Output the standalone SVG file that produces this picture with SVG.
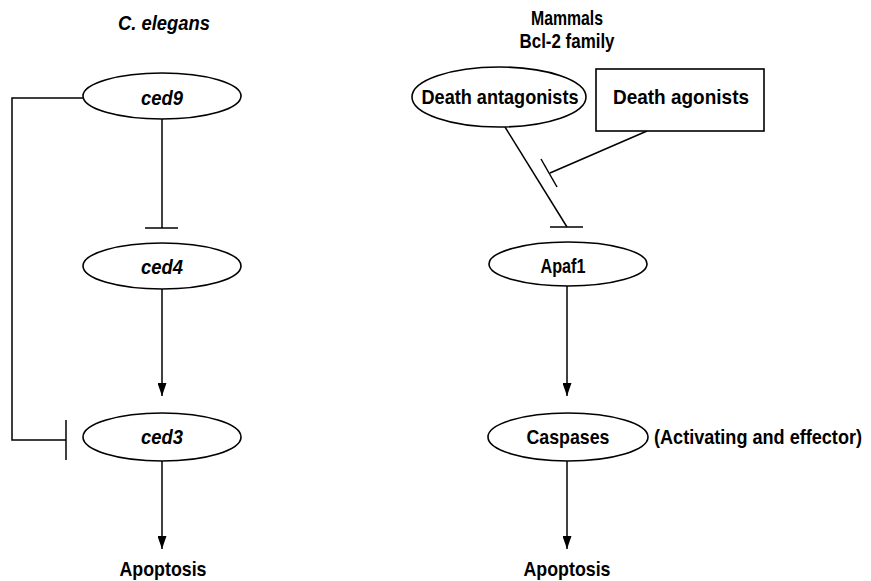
<svg xmlns="http://www.w3.org/2000/svg" width="871" height="581" viewBox="0 0 871 581">
<defs>
<marker id="arr" viewBox="0 0 13 9" refX="13" refY="4.5" markerWidth="13" markerHeight="9" markerUnits="userSpaceOnUse" orient="auto">
<path d="M0,0 L13,4.5 L0,9 z" fill="#000"/>
</marker>
<style>
.n{fill:#fff;stroke:#000;stroke-width:1.6}
.c{fill:none;stroke:#000;stroke-width:1.5}
text{font-family:"Liberation Sans",Arial,sans-serif;font-size:21px;font-weight:bold;text-anchor:middle;fill:#000}
.i{font-style:italic}
</style>
</defs>
<rect width="871" height="581" fill="#fff"/>
<text class="i" x="164" y="30" textLength="92" lengthAdjust="spacingAndGlyphs">C. elegans</text>
<text x="567" y="25" textLength="72" lengthAdjust="spacingAndGlyphs">Mammals</text>
<text x="567" y="48" textLength="95" lengthAdjust="spacingAndGlyphs">Bcl-2 family</text>
<g id="connectors">
<polyline class="c" points="84,98 12,98 12,440 66,440"/>
<line class="c" x1="66" y1="420" x2="66" y2="460"/>
<line class="c" x1="162" y1="119" x2="162" y2="228"/>
<line class="c" x1="145" y1="228" x2="178" y2="228"/>
<line class="c" x1="162" y1="289" x2="162" y2="396" marker-end="url(#arr)"/>
<line class="c" x1="162" y1="461" x2="162" y2="549" marker-end="url(#arr)"/>
<line class="c" x1="505" y1="127" x2="567" y2="227"/>
<line class="c" x1="550" y1="227" x2="583" y2="227"/>
<line class="c" x1="647" y1="131" x2="550" y2="173"/>
<line class="c" x1="541" y1="159" x2="557" y2="187"/>
<line class="c" x1="567" y1="286" x2="567" y2="396" marker-end="url(#arr)"/>
<line class="c" x1="567" y1="461" x2="567" y2="549" marker-end="url(#arr)"/>
</g>
<g id="ced9"><ellipse class="n" cx="162" cy="96" rx="79" ry="23"/><text class="i" x="162" y="105" textLength="42" lengthAdjust="spacingAndGlyphs">ced9</text></g>
<g id="ced4"><ellipse class="n" cx="162" cy="266" rx="79" ry="23"/><text class="i" x="162" y="274" textLength="42" lengthAdjust="spacingAndGlyphs">ced4</text></g>
<g id="ced3"><ellipse class="n" cx="162" cy="437" rx="79" ry="24"/><text class="i" x="162" y="444" textLength="42" lengthAdjust="spacingAndGlyphs">ced3</text></g>
<g id="apoptosis1"><text x="163" y="576" textLength="87" lengthAdjust="spacingAndGlyphs">Apoptosis</text></g>
<g id="death-antagonists"><ellipse class="n" cx="499" cy="97" rx="87" ry="30"/><text x="500" y="104" textLength="157" lengthAdjust="spacingAndGlyphs">Death antagonists</text></g>
<g id="death-agonists"><rect class="n" x="596" y="69" width="168" height="62"/><text x="681" y="104" textLength="136" lengthAdjust="spacingAndGlyphs">Death agonists</text></g>
<g id="apaf1"><ellipse class="n" cx="568" cy="264" rx="79" ry="22"/><text x="563" y="273" textLength="45" lengthAdjust="spacingAndGlyphs">Apaf1</text></g>
<g id="caspases"><ellipse class="n" cx="568" cy="437" rx="80" ry="24"/><text x="568" y="444" textLength="83" lengthAdjust="spacingAndGlyphs">Caspases</text><text x="758" y="444" textLength="208" lengthAdjust="spacingAndGlyphs">(Activating and effector)</text></g>
<g id="apoptosis2"><text x="567" y="576" textLength="87" lengthAdjust="spacingAndGlyphs">Apoptosis</text></g>
</svg>
